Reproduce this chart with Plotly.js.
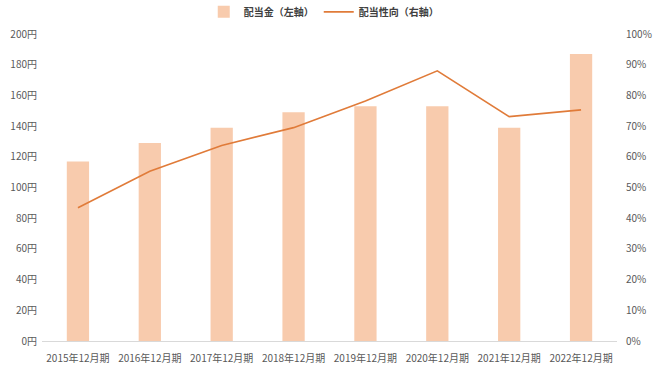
<!DOCTYPE html>
<html>
<head>
<meta charset="utf-8">
<script src="https://cdn.plot.ly/plotly-3.0.1.min.js"></script>
<style>html,body{margin:0;padding:0;background:#fff;}#chart{width:660px;height:371px;}</style>
</head>
<body>
<div id="chart"></div>
<script>
const categories = ["2015年12月期","2016年12月期","2017年12月期","2018年12月期","2019年12月期","2020年12月期","2021年12月期","2022年12月期"];
const dividends = [117, 129, 139, 149, 153, 153, 139, 187];
const payoutRatio = [0.434, 0.553, 0.637, 0.695, 0.782, 0.880, 0.731, 0.753];
const barName = "配当金（左軸）";
const lineName = "配当性向（右軸）";

const font = "'Noto Sans CJK JP', 'Noto Sans', sans-serif";
const traces = [
  {type:'bar', x:categories, y:dividends, name:barName, marker:{color:'#F8CBAD'}, yaxis:'y', hoverinfo:'none'},
  {type:'scatter', mode:'lines', x:categories, y:payoutRatio, name:lineName, line:{color:'#E07B39', width:1.6}, yaxis:'y2', hoverinfo:'none'}
];
const layout = {
  width:660, height:371,
  margin:{l:42, r:43, t:34, b:30, autoexpand:false},
  paper_bgcolor:'#fff', plot_bgcolor:'#fff',
  font:{family:font, size:10, color:'#595959'},
  bargap:0.69,
  showlegend:true,
  legend:{orientation:'h', x:0.49, xanchor:'center', yref:'container', y:0.968, yanchor:'middle',
          font:{family:font, size:10, color:'#404040', weight:'bold'}, traceorder:'normal', itemwidth:30},
  xaxis:{type:'category', showline:true, linecolor:'#D9D9D9', linewidth:1, showgrid:false,
         ticks:'outside', ticklen:8, tickcolor:'rgba(0,0,0,0)', tickfont:{size:10, color:'#595959'}, fixedrange:true},
  yaxis:{range:[0,200], dtick:20, ticksuffix:'円', showgrid:false, zeroline:false, showline:false,
         ticks:'outside', ticklen:2, tickcolor:'rgba(0,0,0,0)', tickfont:{size:10, color:'#595959'}},
  yaxis2:{range:[0,1], dtick:0.1, tickformat:'.0%', overlaying:'y', side:'right', showgrid:false, zeroline:false, showline:false,
          ticks:'outside', ticklen:6, tickcolor:'rgba(0,0,0,0)', tickfont:{size:10, color:'#595959'}}
};
Plotly.newPlot('chart', traces, layout, {displayModeBar:false, staticPlot:true});
</script>
</body>
</html>
